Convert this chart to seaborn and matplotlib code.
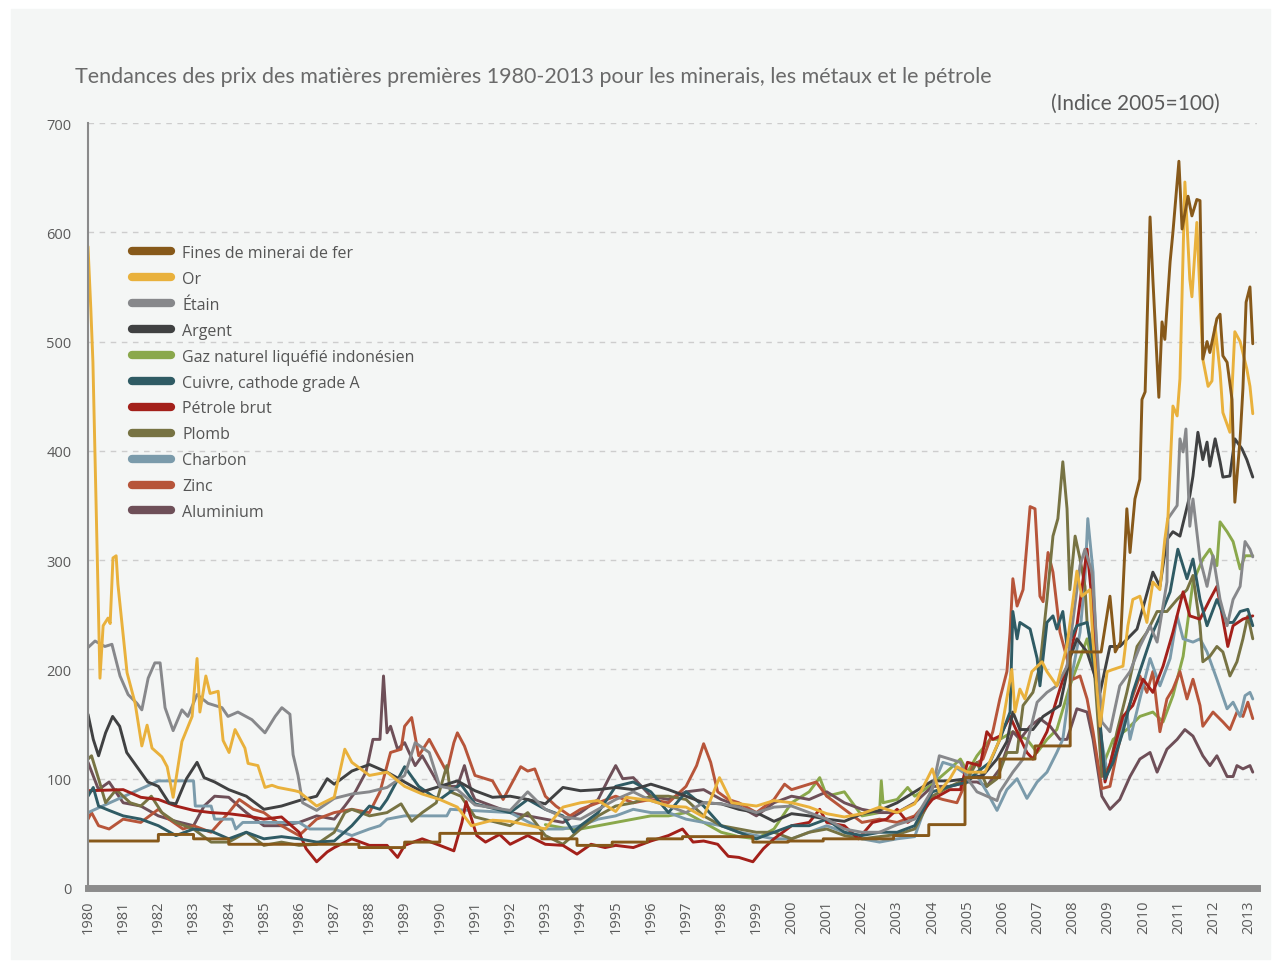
import numpy as np
import pandas as pd
import matplotlib
matplotlib.use("Agg")
import matplotlib.pyplot as plt
from matplotlib.lines import Line2D
from matplotlib.patches import Rectangle
import seaborn as sns

# data: (annee, indice 2005=100)
fer = [(1980.0, 43), (1982.0, 43), (1982.0, 49), (1983.0, 49), (1983.0, 45), (1984.0, 45), (1984.0, 40),
       (1987.7, 40), (1987.7, 37), (1989.0, 37), (1989.0, 42), (1990.0, 42), (1990.0, 50), (1992.9, 50),
       (1992.9, 45), (1993.9, 45), (1993.9, 39), (1994.9, 39), (1994.9, 42), (1995.9, 42), (1995.9, 45),
       (1996.9, 45), (1996.9, 47), (1998.9, 47), (1998.9, 42), (1999.9, 42), (1999.9, 43), (2000.9, 43),
       (2000.9, 45), (2002.9, 45), (2002.9, 48), (2003.9, 48), (2003.9, 58), (2004.93, 58), (2004.93, 101),
       (2005.92, 101), (2005.92, 118), (2006.92, 118), (2006.92, 130), (2007.92, 130), (2007.92, 216),
       (2008.8, 216), (2009.05, 267), (2009.2, 216), (2009.35, 225), (2009.53, 347), (2009.62, 307),
       (2009.76, 356), (2009.9, 374), (2009.96, 447), (2010.05, 454), (2010.19, 614), (2010.27, 557),
       (2010.44, 449), (2010.53, 518), (2010.61, 502), (2010.76, 573), (2010.84, 600), (2011.01, 665),
       (2011.1, 603), (2011.27, 633), (2011.38, 615), (2011.52, 630), (2011.61, 629), (2011.69, 484),
       (2011.81, 500), (2011.89, 490), (2012.09, 521), (2012.18, 525), (2012.26, 487), (2012.38, 481),
       (2012.52, 447), (2012.6, 353), (2012.75, 411), (2012.83, 457), (2012.92, 536), (2013.03, 550),
       (2013.11, 498)]

or_ = [(1980.0, 587), (1980.08, 530), (1980.14, 481), (1980.34, 192), (1980.43, 240), (1980.57, 247),
       (1980.63, 242), (1980.71, 302), (1980.8, 304), (1980.85, 278), (1981.11, 197), (1981.34, 169),
       (1981.53, 130), (1981.68, 149), (1981.82, 128), (1982.1, 120), (1982.25, 111), (1982.42, 83),
       (1982.67, 134), (1982.96, 157), (1983.1, 210), (1983.18, 161), (1983.35, 194), (1983.47, 178),
       (1983.7, 180), (1983.84, 135), (1984.01, 124), (1984.18, 145), (1984.46, 128), (1984.55, 114),
       (1984.83, 112), (1985.03, 92), (1985.23, 94), (1985.4, 92), (1985.88, 89), (1986.0, 88),
       (1986.5, 75), (1987.0, 83), (1987.3, 127), (1987.5, 115), (1988.0, 103), (1988.5, 106),
       (1989.0, 93), (1989.5, 86), (1990.0, 81), (1990.5, 74), (1990.9, 57), (1991.5, 62), (1992.0, 61),
       (1993.0, 54), (1993.5, 74), (1994.0, 78), (1994.5, 80), (1995.0, 70), (1995.3, 83), (1996.0, 80),
       (1996.5, 75), (1997.0, 74), (1997.5, 65), (1997.95, 101), (1998.3, 78), (1999.0, 75), (1999.5, 80),
       (2000.0, 78), (2000.5, 74), (2001.0, 68), (2001.5, 65), (2002.0, 68), (2002.5, 74), (2003.0, 69),
       (2003.5, 77), (2004.0, 109), (2004.2, 88), (2004.5, 100), (2004.7, 111), (2005.0, 106),
       (2005.5, 106), (2005.92, 136), (2006.26, 200), (2006.35, 161), (2006.49, 182), (2006.63, 173),
       (2006.83, 198), (2007.12, 207), (2007.26, 198), (2007.54, 185), (2007.83, 222), (2008.11, 290),
       (2008.25, 267), (2008.48, 273), (2008.57, 225), (2008.77, 148), (2008.97, 198), (2009.14, 200),
       (2009.42, 203), (2009.56, 240), (2009.7, 264), (2009.9, 267), (2010.1, 243), (2010.27, 280),
       (2010.47, 273), (2010.61, 319), (2010.7, 340), (2010.84, 441), (2010.96, 432), (2011.04, 466),
       (2011.18, 646), (2011.32, 557), (2011.38, 541), (2011.52, 609), (2011.69, 484), (2011.84, 459),
       (2011.95, 464), (2012.04, 514), (2012.18, 472), (2012.26, 435), (2012.46, 417), (2012.6, 509),
       (2012.75, 500), (2012.94, 475), (2013.03, 459), (2013.11, 434)]

etain = [(1980.0, 220), (1980.2, 226), (1980.48, 221), (1980.68, 223), (1980.91, 194), (1981.14, 177),
         (1981.39, 169), (1981.53, 163), (1981.71, 192), (1981.9, 206), (1982.05, 206), (1982.19, 165),
         (1982.42, 144), (1982.67, 163), (1982.84, 157), (1983.1, 177), (1983.41, 169), (1983.81, 165),
         (1983.98, 157), (1984.26, 161), (1984.66, 154), (1985.03, 142), (1985.32, 157), (1985.51, 165),
         (1985.74, 159), (1985.83, 122), (1985.97, 103), (1986.1, 78), (1986.5, 71), (1987.0, 82),
         (1987.5, 86), (1988.0, 88), (1988.5, 92), (1989.0, 103), (1989.3, 133), (1989.7, 124),
         (1990.0, 93), (1990.5, 90), (1991.0, 76), (1992.0, 71), (1992.5, 88), (1993.0, 72), (1993.5, 65),
         (1994.0, 63), (1994.5, 72), (1995.0, 81), (1995.5, 88), (1996.0, 80), (1996.5, 75), (1997.0, 69),
         (1997.5, 78), (1998.0, 77), (1998.5, 74), (1999.0, 69), (1999.5, 74), (2000.0, 75), (2000.5, 69),
         (2001.0, 63), (2001.5, 54), (2002.0, 51), (2002.5, 51), (2003.0, 58), (2003.5, 63), (2004.0, 90),
         (2004.2, 121), (2004.5, 118), (2004.8, 115), (2005.0, 100), (2005.27, 88), (2005.84, 80),
         (2005.92, 88), (2006.29, 106), (2006.58, 118), (2006.98, 170), (2007.26, 179), (2007.54, 185),
         (2007.83, 203), (2008.2, 295), (2008.34, 310), (2008.54, 289), (2008.82, 152), (2009.05, 143),
         (2009.33, 185), (2009.62, 198), (2009.9, 221), (2010.19, 240), (2010.39, 225), (2010.67, 280),
         (2010.7, 338), (2010.96, 350), (2011.04, 411), (2011.13, 399), (2011.21, 420), (2011.32, 331),
         (2011.41, 356), (2011.61, 301), (2011.81, 276), (2011.98, 304), (2012.18, 264), (2012.38, 240),
         (2012.55, 264), (2012.75, 276), (2012.89, 317), (2013.03, 310), (2013.11, 303)]

argent = [(1980.0, 159), (1980.15, 136), (1980.3, 121), (1980.5, 142), (1980.7, 157), (1980.9, 148),
          (1981.1, 124), (1981.3, 115), (1981.5, 106), (1981.7, 97), (1982.0, 93), (1982.3, 78),
          (1982.5, 77), (1982.8, 100), (1983.1, 115), (1983.3, 101), (1983.6, 97), (1984.0, 90),
          (1984.5, 84), (1985.0, 72), (1985.5, 75), (1986.0, 80), (1986.5, 84), (1986.8, 100), (1987.0, 95),
          (1987.5, 107), (1988.0, 113), (1988.5, 106), (1989.0, 97), (1989.5, 88), (1990.0, 93),
          (1990.5, 98), (1991.0, 89), (1991.5, 83), (1992.0, 84), (1992.5, 81), (1993.0, 77), (1993.5, 92),
          (1994.0, 89), (1994.5, 90), (1995.0, 92), (1995.5, 90), (1996.0, 95), (1996.5, 90), (1997.0, 84),
          (1997.5, 78), (1998.0, 77), (1998.5, 72), (1999.0, 69), (1999.5, 61), (2000.0, 68), (2000.5, 66),
          (2001.0, 63), (2001.5, 61), (2002.0, 68), (2002.5, 71), (2003.0, 78), (2003.5, 88), (2004.0, 98),
          (2004.5, 98), (2005.0, 100), (2005.44, 103), (2005.84, 118), (2006.12, 134), (2006.29, 161),
          (2006.49, 145), (2006.86, 145), (2007.15, 157), (2007.63, 167), (2007.91, 210), (2008.11, 228),
          (2008.4, 216), (2008.77, 179), (2009.05, 221), (2009.33, 221), (2009.82, 237), (2010.27, 289),
          (2010.47, 276), (2010.67, 319), (2010.84, 326), (2011.04, 322), (2011.32, 359), (2011.41, 377),
          (2011.55, 417), (2011.69, 392), (2011.81, 408), (2011.89, 386), (2012.04, 411), (2012.18, 390),
          (2012.26, 376), (2012.46, 377), (2012.6, 411), (2012.8, 402), (2012.94, 392), (2013.11, 376)]

gaz = [(1993.0, 58), (1993.5, 55), (1994.0, 54), (1995.0, 60), (1995.5, 63),
       (1996.0, 66), (1996.5, 66), (1997.0, 69), (1997.5, 60), (1998.0, 51), (1998.5, 47), (1999.0, 45),
       (1999.5, 54), (2000.0, 78), (2000.5, 88), (2000.8, 101), (2001.0, 84), (2001.5, 88), (2002.0, 66),
       (2002.5, 69), (2002.55, 98), (2002.6, 78), (2003.0, 81), (2003.3, 92), (2003.5, 84), (2004.0, 95),
       (2004.5, 109), (2004.8, 118), (2005.0, 106), (2005.27, 121), (2005.64, 136), (2005.92, 136),
       (2006.29, 143), (2006.69, 136), (2006.98, 124), (2007.26, 136), (2007.54, 145), (2007.91, 185),
       (2008.2, 210), (2008.4, 228), (2008.68, 185), (2008.85, 112), (2009.14, 136), (2009.53, 145),
       (2009.9, 157), (2010.27, 161), (2010.56, 152), (2010.84, 176), (2011.13, 212), (2011.41, 280),
       (2011.69, 301), (2011.89, 310), (2012.09, 295), (2012.18, 335), (2012.38, 326), (2012.55, 317),
       (2012.75, 292), (2012.89, 304), (2013.11, 304)]

cuivre = [(1980.0, 84), (1980.15, 92), (1980.3, 75), (1980.6, 71), (1981.0, 66), (1981.5, 63), (1982.0, 57),
          (1982.5, 48), (1983.0, 54), (1983.5, 52), (1984.0, 45), (1984.5, 51), (1985.0, 45), (1985.5, 47),
          (1986.0, 45), (1986.5, 42), (1987.0, 43), (1987.5, 57), (1988.0, 75), (1988.3, 72), (1988.5, 81),
          (1989.0, 111), (1989.4, 93), (1989.8, 84), (1990.0, 81), (1990.6, 95), (1991.0, 77), (1992.0, 69),
          (1992.5, 81), (1993.0, 72), (1993.5, 66), (1993.8, 51), (1994.0, 57), (1994.5, 69), (1995.0, 93),
          (1995.5, 97), (1996.0, 88), (1996.5, 69), (1997.0, 88), (1997.5, 75), (1998.0, 57), (1998.5, 51),
          (1999.0, 45), (1999.5, 51), (2000.0, 57), (2000.5, 57), (2001.0, 63), (2001.5, 51), (2002.0, 48),
          (2002.5, 51), (2003.0, 51), (2003.5, 57), (2004.0, 88), (2004.5, 93), (2005.0, 97),
          (2005.27, 106), (2005.64, 115), (2005.92, 136), (2006.21, 161), (2006.29, 253), (2006.41, 228),
          (2006.49, 243), (2006.78, 237), (2006.98, 210), (2007.06, 185), (2007.26, 243), (2007.43, 249),
          (2007.54, 237), (2007.71, 253), (2007.83, 221), (2008.11, 240), (2008.4, 243), (2008.68, 185),
          (2008.91, 100), (2009.14, 115), (2009.42, 143), (2009.7, 179), (2009.99, 207), (2010.27, 234),
          (2010.56, 255), (2010.76, 271), (2010.98, 310), (2011.24, 283), (2011.41, 301), (2011.61, 264),
          (2011.81, 240), (2012.09, 264), (2012.38, 243), (2012.55, 243), (2012.75, 253), (2012.97, 255),
          (2013.11, 240)]

petrole = [(1980.0, 89), (1981.0, 90), (1981.5, 83), (1982.0, 81), (1982.5, 75), (1983.0, 71), (1983.5, 69),
           (1984.0, 68), (1984.5, 66), (1985.0, 63), (1985.5, 65), (1986.0, 51), (1986.2, 36), (1986.5, 24),
           (1986.8, 33), (1987.0, 37), (1987.5, 45), (1988.0, 39), (1988.5, 39), (1988.8, 28), (1989.0, 39),
           (1989.5, 45), (1990.0, 39), (1990.4, 34), (1990.63, 60), (1990.75, 79), (1991.05, 48),
           (1991.3, 42), (1991.7, 49), (1992.0, 40), (1992.5, 48), (1993.0, 40), (1993.5, 39), (1993.9, 31),
           (1994.3, 40), (1994.7, 37), (1995.0, 39), (1995.5, 37), (1996.0, 43), (1996.5, 48), (1996.9, 54),
           (1997.2, 42), (1997.5, 43), (1997.9, 40), (1998.2, 29), (1998.5, 28), (1998.9, 24), (1999.2, 36),
           (1999.5, 45), (2000.0, 57), (2000.5, 60), (2000.8, 72), (2001.0, 60), (2001.5, 57), (2001.9, 45),
           (2002.3, 60), (2002.7, 63), (2003.0, 72), (2003.3, 60), (2003.7, 69), (2004.0, 81), (2004.5, 90),
           (2004.8, 90), (2005.0, 115), (2005.36, 112), (2005.55, 143), (2005.72, 136), (2005.92, 139),
           (2006.21, 157), (2006.41, 143), (2006.69, 124), (2006.86, 118), (2007.26, 143), (2007.54, 173),
           (2007.83, 203), (2008.11, 240), (2008.4, 310), (2008.57, 253), (2008.77, 148), (2008.91, 97),
           (2009.14, 124), (2009.42, 157), (2009.7, 167), (2009.99, 191), (2010.27, 179), (2010.56, 203),
           (2010.84, 234), (2011.13, 271), (2011.32, 249), (2011.61, 246), (2011.89, 264), (2012.09, 276),
           (2012.26, 246), (2012.4, 221), (2012.55, 240), (2012.83, 246), (2013.11, 249)]

plomb = [(1980.0, 118), (1980.1, 121), (1980.3, 100), (1980.5, 78), (1980.8, 90), (1981.2, 78), (1981.5, 75),
         (1981.8, 84), (1982.1, 69), (1982.5, 60), (1983.0, 54), (1983.5, 42), (1984.0, 42), (1984.5, 51),
         (1985.0, 39), (1985.5, 42), (1986.0, 39), (1986.5, 40), (1987.0, 51), (1987.3, 69), (1987.5, 72),
         (1988.0, 66), (1988.5, 69), (1988.9, 77), (1989.2, 61), (1989.5, 69), (1989.9, 78), (1990.2, 112),
         (1990.3, 88), (1990.6, 84), (1991.0, 65), (1992.0, 57), (1992.5, 69), (1993.0, 48), (1993.5, 40),
         (1994.0, 54), (1994.5, 66), (1995.0, 75), (1995.5, 78), (1996.0, 84), (1996.5, 84), (1997.0, 81),
         (1997.5, 66), (1998.0, 57), (1998.5, 54), (1999.0, 51), (1999.5, 51), (2000.0, 45), (2000.5, 51),
         (2001.0, 54), (2001.5, 48), (2002.0, 45), (2002.5, 47), (2003.0, 49), (2003.5, 54), (2004.0, 84),
         (2004.5, 93), (2005.0, 100), (2005.27, 115), (2005.55, 93), (2005.84, 100), (2006.12, 124),
         (2006.41, 124), (2006.58, 167), (2006.86, 179), (2007.06, 203), (2007.26, 264), (2007.43, 322),
         (2007.57, 338), (2007.71, 390), (2007.83, 347), (2007.91, 273), (2008.06, 322), (2008.2, 301),
         (2008.34, 276), (2008.4, 243), (2008.57, 216), (2008.82, 102), (2009.05, 112), (2009.25, 143),
         (2009.53, 179), (2009.82, 221), (2010.1, 234), (2010.39, 253), (2010.67, 253), (2010.96, 264),
         (2011.24, 273), (2011.41, 286), (2011.61, 240), (2011.69, 207), (2011.89, 212), (2012.09, 221),
         (2012.26, 216), (2012.46, 194), (2012.66, 207), (2012.83, 228), (2012.97, 249), (2013.11, 228)]

charbon = [(1980.0, 69), (1982.0, 98), (1983.0, 98), (1983.05, 75), (1983.5, 75), (1983.6, 63), (1984.1, 63),
           (1984.2, 54), (1984.4, 60), (1986.0, 60), (1986.3, 54), (1987.0, 54), (1987.5, 48), (1988.0, 54),
           (1988.3, 57), (1988.5, 63), (1989.0, 66), (1990.2, 66), (1990.3, 72), (1992.0, 69), (1992.9, 54),
           (1993.5, 54), (1994.0, 57), (1994.5, 63), (1995.0, 66), (1995.5, 72), (1996.0, 69), (1996.5, 69),
           (1997.0, 63), (1997.5, 60), (1998.0, 57), (1998.5, 51), (1999.0, 48), (1999.5, 45), (2000.0, 45),
           (2000.5, 51), (2001.0, 57), (2001.5, 51), (2002.0, 45), (2002.5, 42), (2003.0, 45), (2003.5, 47),
           (2003.95, 88), (2004.3, 115), (2004.6, 112), (2005.0, 103), (2005.27, 103), (2005.55, 88),
           (2005.84, 71), (2006.12, 90), (2006.41, 100), (2006.69, 82), (2006.98, 97), (2007.26, 106),
           (2007.54, 124), (2007.71, 136), (2007.91, 185), (2008.2, 234), (2008.34, 283), (2008.42, 338),
           (2008.57, 289), (2008.77, 143), (2008.97, 106), (2009.25, 130), (2009.53, 161), (2009.62, 136),
           (2009.9, 173), (2010.19, 210), (2010.47, 185), (2010.76, 210), (2010.96, 249), (2011.13, 228),
           (2011.41, 225), (2011.61, 228), (2011.81, 216), (2012.09, 191), (2012.38, 164), (2012.55, 170),
           (2012.75, 157), (2012.89, 176), (2013.03, 179), (2013.11, 173)]

zinc = [(1980.0, 63), (1980.1, 69), (1980.3, 57), (1980.6, 54), (1981.0, 63), (1981.5, 60), (1982.0, 72),
        (1982.3, 63), (1982.7, 54), (1983.0, 57), (1983.5, 51), (1984.0, 69), (1984.3, 81), (1984.7, 72),
        (1985.0, 69), (1985.5, 57), (1986.0, 48), (1986.3, 57), (1986.5, 63), (1987.0, 69), (1987.5, 72),
        (1988.0, 69), (1988.3, 88), (1988.6, 124), (1988.9, 127), (1989.0, 148), (1989.2, 156),
        (1989.4, 121), (1989.7, 136), (1990.0, 118), (1990.2, 106), (1990.4, 133), (1990.5, 142),
        (1990.7, 130), (1991.0, 103), (1991.5, 98), (1991.8, 81), (1992.0, 93), (1992.3, 111), (1992.5, 107),
        (1992.7, 109), (1993.0, 84), (1993.3, 75), (1993.7, 66), (1994.0, 72), (1994.5, 78), (1995.0, 84),
        (1995.5, 78), (1996.0, 81), (1996.5, 78), (1997.0, 93), (1997.3, 112), (1997.5, 132), (1997.7, 115),
        (1997.9, 88), (1998.2, 81), (1998.5, 78), (1999.0, 69), (1999.5, 81), (1999.8, 95), (2000.0, 90),
        (2000.3, 93), (2000.7, 97), (2001.0, 84), (2001.5, 72), (2002.0, 60), (2002.5, 63), (2003.0, 60),
        (2003.5, 66), (2004.0, 84), (2004.3, 81), (2004.7, 78), (2005.0, 100), (2005.16, 112), (2005.44, 118),
        (2005.72, 143), (2005.92, 173), (2006.12, 198), (2006.21, 234), (2006.29, 283), (2006.41, 258),
        (2006.58, 273), (2006.78, 349), (2006.92, 347), (2007.06, 267), (2007.15, 262), (2007.29, 307),
        (2007.43, 289), (2007.63, 234), (2007.83, 210), (2008.0, 191), (2008.2, 194), (2008.4, 173),
        (2008.57, 143), (2008.82, 91), (2009.05, 93), (2009.25, 124), (2009.53, 161), (2009.7, 176),
        (2009.9, 194), (2010.1, 179), (2010.27, 198), (2010.47, 143), (2010.67, 173), (2010.84, 182),
        (2011.04, 198), (2011.24, 173), (2011.41, 191), (2011.61, 167), (2011.69, 148), (2011.98, 161),
        (2012.26, 152), (2012.46, 145), (2012.66, 161), (2012.83, 157), (2012.97, 170), (2013.11, 155)]

aluminium = [(1980.0, 115), (1980.3, 90), (1980.6, 97), (1981.0, 78), (1981.5, 75), (1982.0, 66), (1982.5, 61),
             (1983.0, 57), (1983.3, 75), (1983.6, 84), (1984.0, 83), (1984.5, 69), (1985.0, 57), (1985.5, 57),
             (1986.0, 60), (1986.5, 66), (1987.0, 63), (1987.3, 75), (1987.6, 88), (1987.9, 106),
             (1988.1, 136), (1988.3, 136), (1988.4, 194), (1988.5, 142), (1988.6, 148), (1988.8, 127),
             (1989.0, 133), (1989.3, 112), (1989.5, 121), (1990.0, 93), (1990.5, 93), (1990.7, 112),
             (1990.9, 88), (1991.0, 81), (1991.5, 75), (1992.0, 69), (1992.5, 66), (1993.0, 63), (1993.5, 60),
             (1994.0, 69), (1994.5, 81), (1994.8, 100), (1995.0, 112), (1995.2, 100), (1995.5, 101),
             (1996.0, 84), (1996.5, 81), (1997.0, 88), (1997.5, 90), (1998.0, 81), (1998.5, 75), (1999.0, 66),
             (1999.5, 78), (2000.0, 84), (2000.5, 81), (2001.0, 88), (2001.5, 78), (2002.0, 72), (2002.5, 69),
             (2003.0, 69), (2003.5, 78), (2004.0, 93), (2004.5, 93), (2005.0, 97), (2005.27, 97),
             (2005.55, 93), (2005.92, 109), (2006.29, 143), (2006.49, 136), (2006.78, 148), (2007.06, 155),
             (2007.35, 148), (2007.63, 136), (2007.83, 136), (2008.11, 164), (2008.4, 161), (2008.57, 136),
             (2008.82, 84), (2009.05, 72), (2009.33, 81), (2009.62, 102), (2009.9, 118), (2010.19, 124),
             (2010.39, 106), (2010.67, 127), (2010.96, 136), (2011.18, 145), (2011.41, 139), (2011.69, 121),
             (2011.89, 112), (2012.09, 121), (2012.38, 102), (2012.55, 102), (2012.66, 112), (2012.83, 109),
             (2013.03, 112), (2013.11, 106)]

noms = ['Fines de minerai de fer', 'Or', 'Étain', 'Argent', 'Gaz naturel liquéfié indonésien',
        'Cuivre, cathode grade A', 'Pétrole brut', 'Plomb', 'Charbon', 'Zinc', 'Aluminium']
series = [fer, or_, etain, argent, gaz, cuivre, petrole, plomb, charbon, zinc, aluminium]
couleurs = ['#87591A', '#E9B13C', '#87888B', '#404142', '#8AA84B', '#2F5B64',
            '#A3201A', '#777343', '#7B9BAB', '#B7553A', '#6E4F58']
annees = list(range(1980, 2014))

rows = []
for nom, s in zip(noms, series):
    for a, v in s:
        rows.append((nom, a, v))
df = pd.DataFrame(rows, columns=['serie', 'annee', 'indice'])

sns.set_style('white')
plt.rcParams['font.family'] = ['Open Sans', 'DejaVu Sans']

fig = plt.figure(figsize=(12.8, 9.7), dpi=100, facecolor='white')
fig.patches.append(Rectangle((11 / 1280, 10 / 970), 1259 / 1280, 950 / 970,
                             transform=fig.transFigure, color='#f4f6f5', zorder=-10))
ax = fig.add_axes([88 / 1280, 1 - 889 / 970, 1169 / 1280, 765 / 970])
ax.set_facecolor('none')

# tracer de bas en haut : gaz d'abord, fer et or au-dessus
ordre = ['Gaz naturel liquéfié indonésien', 'Aluminium', 'Zinc', 'Charbon', 'Plomb', 'Pétrole brut',
         'Cuivre, cathode grade A', 'Argent', 'Étain', 'Or', 'Fines de minerai de fer']
pal = dict(zip(noms, couleurs))
sns.lineplot(data=df, x='annee', y='indice', hue='serie', hue_order=ordre, palette=pal,
             estimator=None, sort=False, linewidth=2.1, legend=False, ax=ax)

ax.set_xlim(1980, 2013.23)
ax.set_ylim(0, 700)
ax.set_yticks(range(0, 701, 100))
ax.set_xticks(annees)
ax.set_xticklabels([str(a) for a in annees], rotation=90)
ax.set_xlabel('')
ax.set_ylabel('')
ax.yaxis.grid(True, color='#cdcdcd', linestyle=(0, (4, 4)), linewidth=1)
ax.set_axisbelow(True)
for sp in ['top', 'right']:
    ax.spines[sp].set_visible(False)
ax.spines['left'].set_color('#8a8a8a')
ax.spines['left'].set_linewidth(1.5)
ax.spines['bottom'].set_color('#8c8c8c')
ax.spines['bottom'].set_linewidth(5)
ax.spines['bottom'].set_zorder(5)
ax.tick_params(axis='y', length=4, width=1, color='#8a8a8a', pad=8, labelsize=10.5, labelcolor='#5a5a5a')
ax.tick_params(axis='x', length=4, width=1, color='#8a8a8a', pad=4, labelsize=10.5, labelcolor='#5a5a5a')

handles = [Line2D([], [], color=c, linewidth=6, solid_capstyle='round') for c in couleurs]
ax.legend(handles, noms, loc='upper left', bbox_to_anchor=(132 / 1280, 1 - 246 / 970),
          bbox_transform=fig.transFigure, frameon=False, fontsize=11.5, labelcolor='#555555',
          handlelength=2.45, handletextpad=0.7, labelspacing=0.62, borderpad=0, borderaxespad=0)

fig.text(75 / 1280, 1 - 77 / 970, 'Tendances des prix des matières premières 1980-2013 pour les minerais, les métaux et le pétrole',
         fontsize=15.5, color='#6a6a6a', va='center', ha='left', family=['Lato', 'DejaVu Sans'])
fig.text(1220 / 1280, 1 - 104 / 970, '(Indice 2005=100)', fontsize=15, color='#5a5a5a',
         va='center', ha='right', family=['Lato', 'DejaVu Sans'])

fig.savefig('out.png', dpi=100, facecolor='white')
